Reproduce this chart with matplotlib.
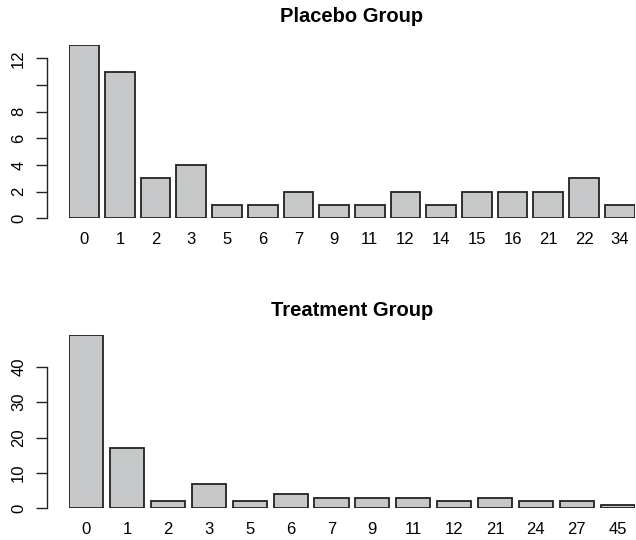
import matplotlib
matplotlib.use("Agg")
import matplotlib.pyplot as plt
import numpy as np

plt.rcParams['font.family'] = ['Liberation Sans', 'DejaVu Sans']

placebo_labels = ["0", "1", "2", "3", "5", "6", "7", "9", "11", "12", "14", "15", "16", "21", "22", "34"]
placebo_counts = [13, 11, 3, 4, 1, 1, 2, 1, 1, 2, 1, 2, 2, 2, 3, 1]
placebo_yticks = [0, 2, 4, 6, 8, 10, 12]
placebo_yticklabels = ["0", "2", "4", "6", "8", "", "12"]

treat_labels = ["0", "1", "2", "3", "5", "6", "7", "9", "11", "12", "21", "24", "27", "45"]
treat_counts = [49, 17, 2, 7, 2, 4, 3, 3, 3, 2, 3, 2, 2, 1]
treat_yticks = [0, 10, 20, 30, 40]
treat_yticklabels = ["0", "10", "20", "30", "40"]

W, H = 636, 540
fig = plt.figure(figsize=(W / 100, H / 100), dpi=100)

bar_color = '#c6c7c9'
edge_color = '#222222'


def panel(left_px, right_px, bottom_px, top_px, labels, counts, yticks, yticklabels, title, ymax, title_y_px):
    ax = fig.add_axes([left_px / W, 1 - bottom_px / H, (right_px - left_px) / W, (bottom_px - top_px) / H])
    n = len(counts)
    x = 0.2 + np.arange(n) * 1.2 + 0.5
    ax.bar(x, counts, width=1.0, color=bar_color, edgecolor=edge_color, linewidth=1.3)
    ax.set_xlim(0.2, 0.2 + n * 1.2 - 0.2)
    ax.set_ylim(0, ymax)
    for s in ['top', 'right', 'bottom']:
        ax.spines[s].set_visible(False)
    ax.spines['left'].set_position(('outward', 16))
    ax.spines['left'].set_bounds(yticks[0], yticks[-1])
    ax.spines['left'].set_linewidth(1.0)
    ax.spines['left'].set_color('#222222')
    ax.set_yticks(yticks)
    ax.set_yticklabels(yticklabels, rotation=90, va='center', fontsize=12)
    ax.tick_params(axis='y', direction='out', length=8, width=1.0, color='#222222', pad=7)
    ax.set_xticks(x)
    ax.set_xticklabels(labels, fontsize=12)
    ax.tick_params(axis='x', length=0, pad=10)
    fig.text((left_px + right_px) / 2 / W, 1 - title_y_px / H, title, fontsize=14.5,
             fontweight='bold', ha='center', va='center')
    return ax


panel(69.3, 634.6, 218.3, 218.3 - 13 * 13.33, placebo_labels, placebo_counts,
      placebo_yticks, placebo_yticklabels, "Placebo Group", 13, 17)
panel(69.3, 634.6, 508.3, 508.3 - 49 * 3.54, treat_labels, treat_counts,
      treat_yticks, treat_yticklabels, "Treatment Group", 49, 311)

fig.savefig("out.png", dpi=100)
